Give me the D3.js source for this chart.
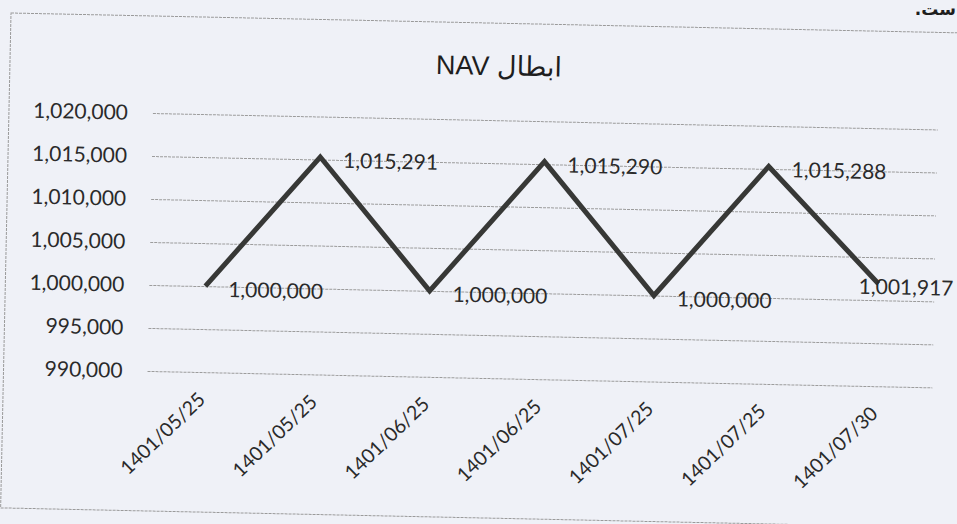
<!DOCTYPE html>
<html>
<head>
<meta charset="utf-8">
<script src="https://cdn.jsdelivr.net/npm/d3@7"></script>
<style>
  html, body { margin: 0; padding: 0; background: #eff1f7; }
  svg { display: block; }
</style>
</head>
<body>
<svg id="chart" width="957" height="524"></svg>
<script>
// ---- data ----
const categories = ["1401/05/25", "1401/05/25", "1401/06/25", "1401/06/25", "1401/07/25", "1401/07/25", "1401/07/30"];
const navValues = [1000000, 1015291, 1000000, 1015290, 1000000, 1015288, 1001917];
const yTicks = [990000, 995000, 1000000, 1005000, 1010000, 1015000, 1020000];
const titleText = "ابطال NAV";
const pageFragment = "ست.";

// ---- layout ----
const svg = d3.select("#chart");
const W = 957, H = 524;
const frame = { left: 11, top: 13, width: 962, height: 495 };
const plot = { left: 155, right: 940, top: 110, bottom: 368 };

svg.append("rect").attr("width", W).attr("height", H).attr("fill", "#eff1f7");

// document text fragment above the chart (top-right corner of the scan)
svg.append("text")
  .attr("x", 956).attr("y", 15)
  .attr("direction", "rtl")
  .attr("text-anchor", "start")
  .attr("font-family", "'DejaVu Sans', sans-serif")
  .attr("font-size", 17)
  .attr("font-weight", "bold")
  .attr("fill", "#1e1e1e")
  .text(pageFragment);

// whole scanned page is tilted slightly
const g = svg.append("g").attr("transform", `rotate(1.2, ${frame.left}, ${frame.top})`);

// chart frame
g.append("rect")
  .attr("x", frame.left).attr("y", frame.top)
  .attr("width", frame.width).attr("height", frame.height)
  .attr("fill", "none")
  .attr("stroke", "#9a9a9a")
  .attr("stroke-width", 1)
  .attr("stroke-dasharray", "3,1");

const x = d3.scalePoint().domain(d3.range(categories.length)).range([plot.left, plot.right]).padding(0.5);
const y = d3.scaleLinear().domain([990000, 1020000]).range([plot.bottom, plot.top]);

const labelFont = "Lato, Calibri, Carlito, 'Open Sans', sans-serif";
const textColor = "#2a2a2a";

// y axis with gridlines
const yAxis = d3.axisLeft(y)
  .tickValues(yTicks)
  .tickFormat(d3.format(","))
  .tickSize(-(plot.right - plot.left))
  .tickPadding(25);

const yg = g.append("g").attr("transform", `translate(${plot.left},0)`).call(yAxis);
yg.select(".domain").remove();
yg.selectAll(".tick line")
  .attr("stroke", "#9c9c9c")
  .attr("stroke-width", 1)
  .attr("stroke-dasharray", "3,1");
yg.selectAll(".tick text")
  .attr("font-family", labelFont)
  .attr("font-size", 21)
  .attr("fill", textColor);

// x axis (category labels rotated)
const xAxis = d3.axisBottom(x)
  .tickFormat(i => categories[i])
  .tickSize(0);
const xg = g.append("g").attr("transform", `translate(0,${plot.bottom})`).call(xAxis);
xg.select(".domain").remove();
xg.selectAll(".tick text")
  .attr("font-family", labelFont)
  .attr("font-size", 19.5)
  .attr("fill", textColor)
  .attr("text-anchor", "end")
  .attr("x", 0).attr("y", 0).attr("dy", "0.35em")
  .attr("transform", "translate(-2,24) rotate(-45)");

// line
const line = d3.line().x((d, i) => x(i)).y(d => y(d));
g.append("path")
  .datum(navValues)
  .attr("d", line)
  .attr("fill", "none")
  .attr("stroke", "#373836")
  .attr("stroke-width", 5)
  .attr("stroke-linejoin", "miter")
  .attr("stroke-linecap", "butt");

// data labels
const fmt = d3.format(",");
const labelRight = frame.left + frame.width - 14;
g.append("g").selectAll("text")
  .data(navValues)
  .join("text")
  .attr("x", (d, i) => x(i) + 23)
  .attr("y", d => y(d) + 3)
  .attr("dy", "0.35em")
  .attr("font-family", labelFont)
  .attr("font-size", 21)
  .attr("fill", textColor)
  .text(d => fmt(d))
  .each(function () {
    const t = d3.select(this);
    const w = this.getComputedTextLength();
    const x0 = +t.attr("x");
    if (x0 + w > labelRight) t.attr("x", labelRight - w);
  });

// title
g.append("text")
  .attr("x", 500).attr("y", 65)
  .attr("direction", "rtl")
  .attr("text-anchor", "middle")
  .attr("font-family", "'Liberation Sans', Arial, 'DejaVu Sans', sans-serif")
  .attr("font-size", 27)
  .attr("fill", "#1e1e1e")
  .text(titleText);
</script>
</body>
</html>
